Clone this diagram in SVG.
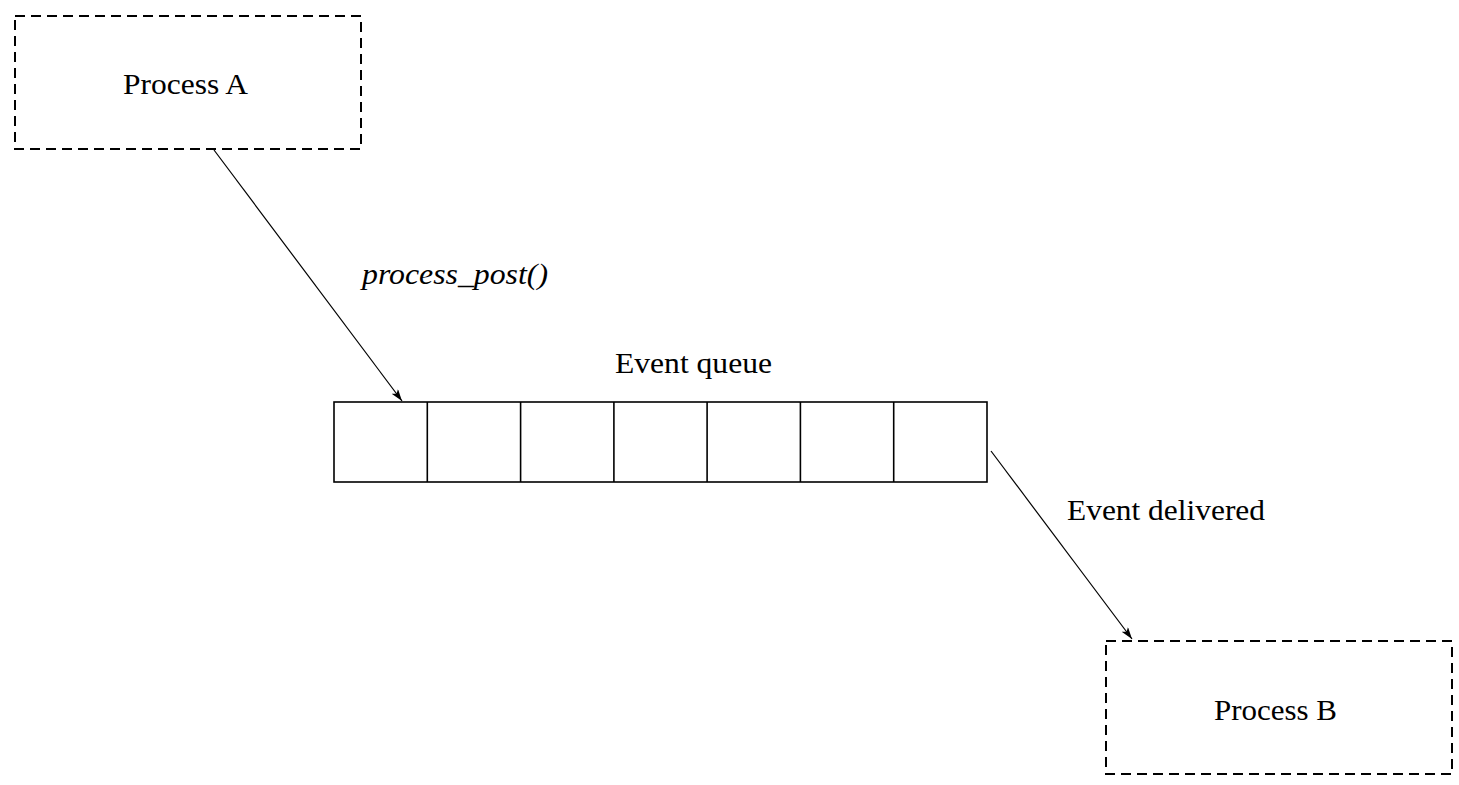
<svg xmlns="http://www.w3.org/2000/svg" width="1459" height="785" viewBox="0 0 1459 785">
<style>
.proc{fill:none;stroke:#000;stroke-width:2;stroke-dasharray:10,6}
.cell{fill:none;stroke:#000;stroke-width:1.6}
.conn{fill:none;stroke:#000;stroke-width:1.2}
.lbl{font-family:"Liberation Serif","Times New Roman",serif;font-size:30px;fill:#000}
.it{font-style:italic}
</style>
<defs>
<marker id="arr" viewBox="0 0 12 8" refX="12" refY="4" markerWidth="12" markerHeight="8" markerUnits="userSpaceOnUse" orient="auto">
<path d="M0,0 L12,4 L0,8 L3,4 Z" fill="#000"/>
</marker>
</defs>
<rect width="1459" height="785" fill="#fff"/>
<g id="processA">
<rect class="proc" x="15" y="16" width="346" height="133"/>
<text class="lbl" x="123" y="94" textLength="125" lengthAdjust="spacingAndGlyphs">Process A</text>
</g>
<g id="queue">
<rect class="cell" x="334" y="402" width="653" height="80"/>
<line class="cell" x1="427.3" y1="402" x2="427.3" y2="482"/>
<line class="cell" x1="520.6" y1="402" x2="520.6" y2="482"/>
<line class="cell" x1="613.9" y1="402" x2="613.9" y2="482"/>
<line class="cell" x1="707.1" y1="402" x2="707.1" y2="482"/>
<line class="cell" x1="800.4" y1="402" x2="800.4" y2="482"/>
<line class="cell" x1="893.7" y1="402" x2="893.7" y2="482"/>
<text class="lbl" x="615" y="373" textLength="157" lengthAdjust="spacingAndGlyphs">Event queue</text>
</g>
<g id="processB">
<rect class="proc" x="1106" y="641" width="346" height="133"/>
<text class="lbl" x="1214" y="720" textLength="123" lengthAdjust="spacingAndGlyphs">Process B</text>
</g>
<g id="connectors">
<line class="conn" x1="214" y1="150" x2="402" y2="401" marker-end="url(#arr)"/>
<text class="lbl it" x="362" y="284" textLength="186" lengthAdjust="spacingAndGlyphs">process_post()</text>
<line class="conn" x1="991" y1="451" x2="1132" y2="639" marker-end="url(#arr)"/>
<text class="lbl" x="1067" y="520" textLength="198" lengthAdjust="spacingAndGlyphs">Event delivered</text>
</g>
</svg>
